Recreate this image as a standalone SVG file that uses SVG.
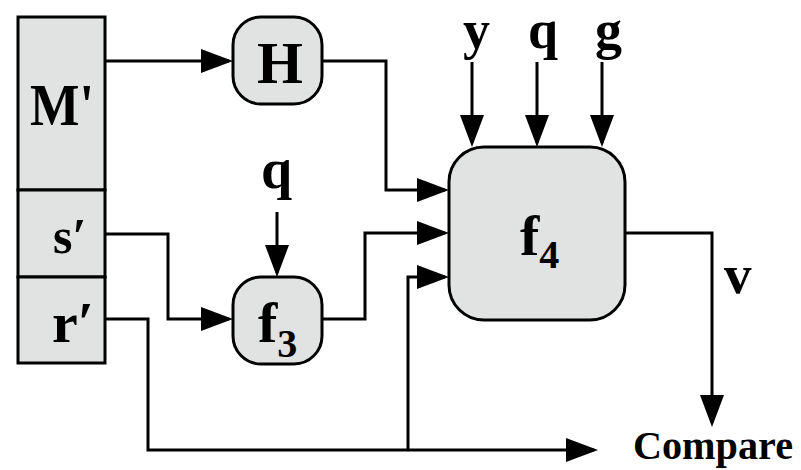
<svg xmlns="http://www.w3.org/2000/svg" width="801" height="470" viewBox="0 0 801 470">
  <style>
    .box { fill: #e1e2e2; stroke: #000; stroke-width: 3; }
    .lbl { font-family: "Liberation Serif", "Times New Roman", serif; font-weight: bold; fill: #000; }
    .edge { fill: none; stroke: #000; stroke-width: 3; marker-end: url(#arr); }
  </style>
  <defs>
    <marker id="arr" markerUnits="userSpaceOnUse" markerWidth="34" markerHeight="26" refX="28" refY="12" orient="auto">
      <path d="M0,0 L32,12 L0,24 Z" fill="#000"/>
    </marker>
  </defs>
  <rect width="801" height="470" fill="#fff"/>

  <g id="connectors">
    <path class="edge" d="M105,61 H229"/>
    <path class="edge" d="M322,61 H386 V190 H445"/>
    <path class="edge" d="M105,234 H168 V319 H229"/>
    <path class="edge" d="M322,319 H365 V233 H445"/>
    <path class="edge" d="M105,319 H148 V450 H594"/>
    <path class="edge" d="M408,450 V277 H445"/>
    <path class="edge" d="M277,212 V273"/>
    <path class="edge" d="M472,62 V143"/>
    <path class="edge" d="M537,62 V143"/>
    <path class="edge" d="M602,62 V143"/>
    <path class="edge" d="M625,233 H712 V423"/>
  </g>

  <g id="node-M">
    <rect class="box" x="18" y="17" width="87" height="173"/>
    <text class="lbl" x="30" y="125" font-size="60" textLength="64" lengthAdjust="spacingAndGlyphs">M'</text>
  </g>
  <g id="node-s">
    <rect class="box" x="18" y="190" width="87" height="87"/>
    <text class="lbl" x="53" y="253" font-size="50">s′</text>
  </g>
  <g id="node-r">
    <rect class="box" x="18" y="277" width="87" height="86"/>
    <text class="lbl" x="52" y="342" font-size="58">r′</text>
  </g>

  <g id="node-H">
    <rect class="box" x="233" y="17" width="89" height="87" rx="28" ry="28"/>
    <text class="lbl" x="257" y="83" font-size="59">H</text>
  </g>

  <g id="node-f3">
    <rect class="box" x="233" y="277" width="89" height="87" rx="28" ry="28"/>
    <text class="lbl" x="258" y="342" font-size="58">f<tspan font-size="40" dy="15">3</tspan></text>
  </g>

  <g id="node-f4">
    <rect class="box" x="449" y="147" width="176" height="173" rx="35" ry="35"/>
    <text class="lbl" x="520" y="255" font-size="58">f<tspan font-size="40" dy="13">4</tspan></text>
  </g>

  <g id="labels">
    <text class="lbl" x="261" y="188" font-size="56">q</text>
    <text class="lbl" x="463" y="48" font-size="54">y</text>
    <text class="lbl" x="528" y="48" font-size="54">q</text>
    <text class="lbl" x="595" y="48" font-size="54">g</text>
    <text class="lbl" x="724" y="293" font-size="55">v</text>
    <text class="lbl" x="633" y="459" font-size="41" textLength="160" lengthAdjust="spacingAndGlyphs">Compare</text>
  </g>
</svg>
